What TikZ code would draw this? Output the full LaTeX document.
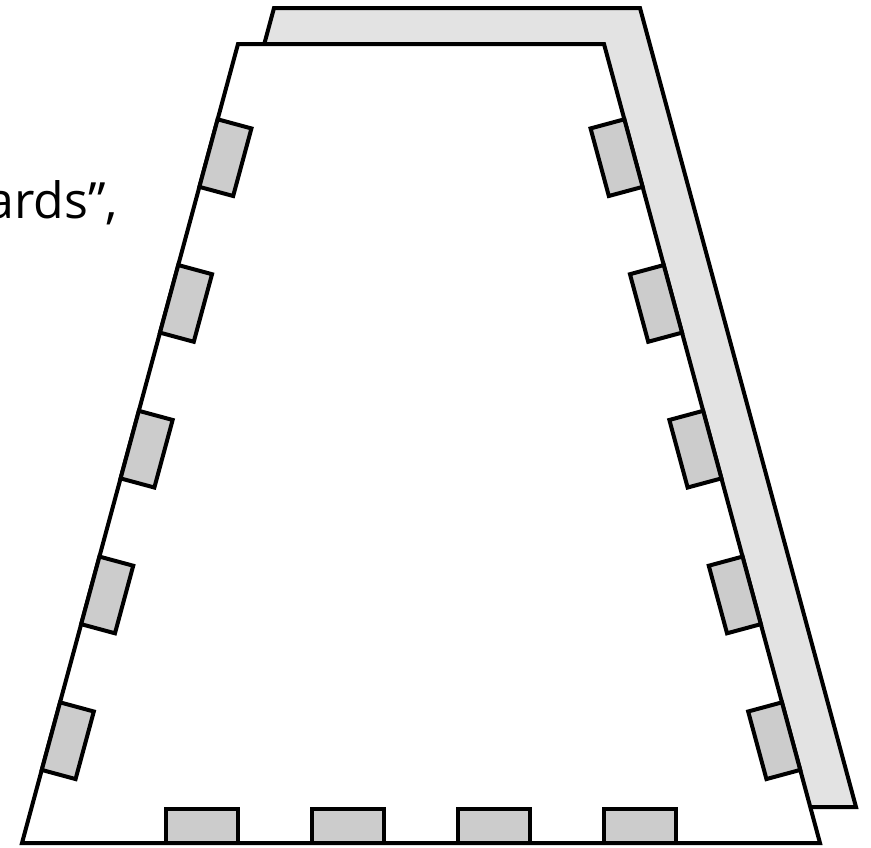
\documentclass[tikz,border=0pt]{standalone}
\usepackage{fontspec}
\setmainfont{Open Sans}
\usetikzlibrary{calc}
\definecolor{backgray}{HTML}{E3E3E3}
\definecolor{padgray}{HTML}{CCCCCC}
\tikzset{
  outline/.style={draw=black, line width=4pt, line join=miter},
  pad/.style={outline, fill=padgray},
}
\begin{document}
\begin{tikzpicture}[x=1pt,y=-1pt]
\useasboundingbox (0,0) rectangle (871,847);
% corners
\coordinate (TL) at (238,44);
\coordinate (TR) at (604,44);
\coordinate (BR) at (820,843);
\coordinate (BL) at (22,843);
% back plate
\draw[outline, fill=backgray] ($(TL)+(36,-36)$) -- ($(TR)+(36,-36)$) -- ($(BR)+(36,-36)$) -- ($(BL)+(36,-36)$) -- cycle;
% front plate
\draw[outline, fill=white] (TL) -- (TR) -- (BR) -- (BL) -- cycle;
% pads on left and right edges
\foreach \k in {0,...,4}{
  \pgfmathsetmacro{\da}{78+151*\k}
  \pgfmathsetmacro{\db}{\da+70}
  \coordinate (L1) at ($(TL)!\da pt!(BL)$);
  \coordinate (L2) at ($(TL)!\db pt!(BL)$);
  \draw[pad] (L1) -- (L2) -- ($(L2)!35pt!90:(BL)$) -- ($(L1)!35pt!90:(BL)$) -- cycle;
  \coordinate (R1) at ($(TR)!\da pt!(BR)$);
  \coordinate (R2) at ($(TR)!\db pt!(BR)$);
  \draw[pad] (R1) -- (R2) -- ($(R2)!35pt!-90:(BR)$) -- ($(R1)!35pt!-90:(BR)$) -- cycle;
}
% pads on the bottom edge
\foreach \k in {0,...,3}{
  \pgfmathsetmacro{\xa}{166+146*\k}
  \draw[pad] (\xa,843) rectangle (\xa+72,809);
}
% cut-off text
\node[anchor=base east, inner sep=0pt, font=\fontsize{50}{60}\selectfont] (txt) at (118,218) {ards”,};
\end{tikzpicture}
\end{document}
